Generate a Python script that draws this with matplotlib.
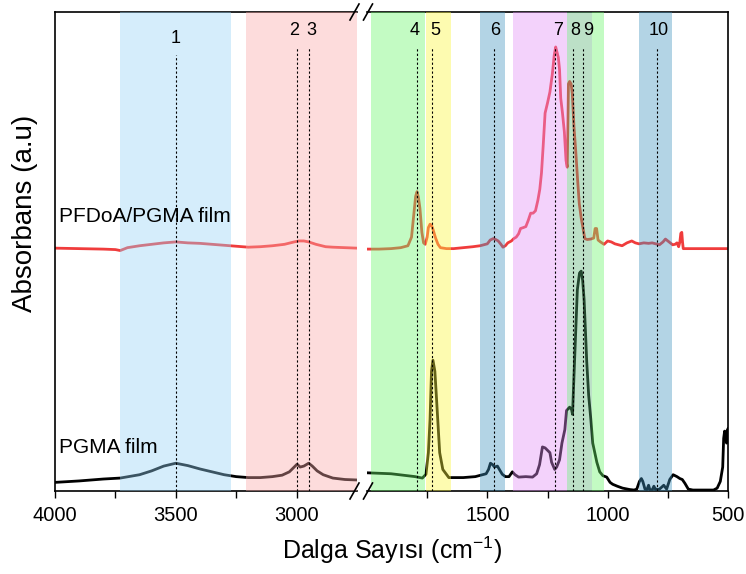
import numpy as np
import matplotlib.pyplot as plt

plt.rcParams['font.family'] = ['Liberation Sans', 'DejaVu Sans']
plt.rcParams['mathtext.fontset'] = 'custom'
plt.rcParams['mathtext.rm'] = 'Liberation Sans'

# PGMA film, high wavenumber part (cm-1, absorbance a.u.)
pgma_hi_x = [4000, 3900, 3800, 3730, 3650, 3600, 3550, 3500, 3450, 3400, 3350, 3300,
             3250, 3200, 3150, 3100, 3060, 3030, 3010, 2998, 2985, 2970, 2950, 2935,
             2915, 2890, 2850, 2800, 2750]
pgma_hi_y = [0.018, 0.021, 0.025, 0.027, 0.034, 0.042, 0.052, 0.058, 0.053, 0.046, 0.040,
             0.034, 0.030, 0.028, 0.028, 0.030, 0.033, 0.040, 0.050, 0.056, 0.050, 0.052,
             0.058, 0.052, 0.042, 0.034, 0.027, 0.024, 0.023]

# PGMA film, fingerprint part (wavenumber, absorbance)
pgma_lo = [(2000, 0.038), (1900, 0.036), (1850, 0.033), (1800, 0.030), (1770, 0.027),
           (1755, 0.035), (1745, 0.080), (1738, 0.150), (1732, 0.250), (1726, 0.273),
           (1718, 0.250), (1712, 0.200), (1705, 0.140), (1698, 0.080), (1685, 0.045),
           (1660, 0.028), (1600, 0.028), (1550, 0.030), (1505, 0.036), (1495, 0.045),
           (1487, 0.058), (1478, 0.055), (1470, 0.050), (1458, 0.052), (1450, 0.045),
           (1438, 0.035), (1425, 0.030), (1410, 0.030), (1396, 0.040), (1385, 0.034),
           (1370, 0.029), (1340, 0.030), (1312, 0.029), (1295, 0.036), (1283, 0.055),
           (1271, 0.092), (1260, 0.090), (1254, 0.087), (1240, 0.080), (1233, 0.060),
           (1220, 0.045), (1212, 0.050), (1200, 0.065), (1190, 0.100), (1178, 0.128),
           (1171, 0.168), (1158, 0.175), (1150, 0.170), (1146, 0.160), (1140, 0.240),
           (1133, 0.330), (1126, 0.420), (1117, 0.455), (1110, 0.459), (1104, 0.440),
           (1098, 0.400), (1092, 0.330), (1087, 0.270), (1079, 0.200), (1070, 0.150),
           (1062, 0.100), (1045, 0.060), (1033, 0.040), (1020, 0.032), (1004, 0.029),
           (990, 0.018), (979, 0.014), (960, 0.010), (938, 0.006), (908, 0.003),
           (890, 0.002), (879, 0.004), (868, 0.020), (860, 0.026), (854, 0.020),
           (845, 0.004), (837, 0.003), (830, 0.012), (825, 0.003), (815, 0.002),
           (808, 0.010), (800, 0.002), (795, 0.004), (790, 0.002), (780, 0.006),
           (767, 0.012), (755, 0.004), (742, 0.024), (728, 0.034), (712, 0.030),
           (700, 0.026), (690, 0.024), (679, 0.016), (665, 0.004), (646, 0.002),
           (600, 0.002), (560, 0.002), (545, 0.006), (532, 0.020), (522, 0.050),
           (518, 0.110), (514, 0.125), (510, 0.120), (506, 0.100), (503, 0.127),
           (500, 0.130)]

# PFDoA/PGMA film
pf_hi_x = [4000, 3900, 3800, 3750, 3730, 3700, 3650, 3600, 3550, 3500, 3450, 3400, 3350,
           3300, 3250, 3200, 3150, 3100, 3050, 3010, 2990, 2970, 2950, 2920, 2880, 2850,
           2800, 2750]
pf_hi_y = [0.507, 0.506, 0.505, 0.504, 0.502, 0.508, 0.512, 0.515, 0.518, 0.520, 0.518,
           0.517, 0.515, 0.513, 0.511, 0.509, 0.510, 0.512, 0.515, 0.520, 0.522, 0.522,
           0.520, 0.515, 0.510, 0.509, 0.508, 0.507]

pf_lo = [(2000, 0.505), (1950, 0.505), (1900, 0.506), (1860, 0.508), (1830, 0.512),
         (1815, 0.530), (1805, 0.580), (1798, 0.615), (1792, 0.625), (1786, 0.612),
         (1780, 0.590), (1772, 0.540), (1765, 0.518), (1758, 0.515), (1750, 0.530),
         (1745, 0.550), (1738, 0.557), (1732, 0.555), (1725, 0.545), (1715, 0.528),
         (1705, 0.515), (1695, 0.508), (1670, 0.506), (1640, 0.506), (1600, 0.508),
         (1560, 0.510), (1530, 0.512), (1500, 0.516), (1488, 0.524), (1475, 0.527),
         (1465, 0.525), (1455, 0.522), (1445, 0.516), (1435, 0.509), (1425, 0.512),
         (1415, 0.518), (1400, 0.522), (1390, 0.527), (1380, 0.530), (1370, 0.537),
         (1362, 0.548), (1350, 0.550), (1340, 0.552), (1330, 0.565), (1320, 0.580),
         (1310, 0.580), (1300, 0.585), (1290, 0.607), (1282, 0.630), (1275, 0.664),
         (1268, 0.720), (1260, 0.789), (1250, 0.810), (1240, 0.833), (1230, 0.870),
         (1222, 0.910), (1216, 0.927), (1210, 0.915), (1205, 0.905), (1200, 0.880),
         (1195, 0.820), (1188, 0.790), (1180, 0.750), (1173, 0.690), (1168, 0.676),
         (1163, 0.850), (1158, 0.855), (1152, 0.850), (1147, 0.830), (1140, 0.760),
         (1133, 0.712), (1125, 0.650), (1118, 0.600), (1110, 0.570), (1103, 0.550),
         (1095, 0.527), (1085, 0.525), (1070, 0.526), (1058, 0.528), (1052, 0.548),
         (1046, 0.548), (1040, 0.524), (1030, 0.520), (1015, 0.515), (1000, 0.522),
         (985, 0.520), (970, 0.516), (955, 0.514), (940, 0.512), (920, 0.518),
         (900, 0.522), (885, 0.518), (870, 0.516), (850, 0.518), (830, 0.517),
         (815, 0.518), (800, 0.516), (785, 0.514), (770, 0.520), (760, 0.526),
         (750, 0.522), (740, 0.518), (730, 0.514), (720, 0.515), (712, 0.518),
         (705, 0.510), (700, 0.520), (696, 0.538), (692, 0.540), (689, 0.520),
         (686, 0.506), (650, 0.506), (600, 0.506), (550, 0.506), (500, 0.506)]

# shaded bands (cm-1) and their colours
bands = [(3730, 3270, '#96d4f7'), (3210, 2750, '#faa8a8'), (1983, 1758, '#6bf76b'),
         (1754, 1650, '#fcf73a'), (1529, 1425, '#4194c0'), (1392, 1167, '#e38ff7'),
         (1167, 1067, '#59b375'), (1067, 1017, '#6bf76b'), (871, 733, '#4194c0')]

# peak markers: label, wavenumber of dashed line, label position, label height
peak_labels = ['1', '2', '3', '4', '5', '6', '7', '8', '9', '10']
peak_pos = [3500, 2998, 2950, 1792, 1729, 1471, 1217, 1142, 1104, 796]
label_pos = [3500, 3012, 2940, 1803, 1716, 1468, 1205, 1134, 1080, 788]
label_y = [0.945, 0.962, 0.962, 0.962, 0.962, 0.962, 0.962, 0.962, 0.962, 0.962]

fig = plt.figure(figsize=(7.46, 5.74), dpi=100)
top, bot = 1 - 12 / 574, 1 - 491 / 574
ax1 = fig.add_axes([55 / 746, bot, 302 / 746, top - bot])
ax2 = fig.add_axes([367 / 746, bot, 361 / 746, top - bot])

for ax, xlim in [(ax1, (4000, 2750)), (ax2, (2000, 500))]:
    ax.set_xlim(*xlim)
    ax.set_ylim(0, 1)
    ax.set_yticks([])
    ax.tick_params(axis='x', direction='out', length=5, width=1, labelsize=14.5, pad=6)
    for s in ax.spines.values():
        s.set_linewidth(1.2)
    for lo, hi, c in bands:
        ax.axvspan(hi, lo, color=c, alpha=0.4, lw=0, zorder=3)

ax1.spines['right'].set_visible(False)
ax2.spines['left'].set_visible(False)
ax1.set_xticks([4000, 3750, 3500, 3250, 3000])
ax1.set_xticklabels(['4000', '', '3500', '', '3000'])
ax2.set_xticks([1750, 1500, 1250, 1000, 750, 500])
ax2.set_xticklabels(['', '1500', '', '1000', '', '500'])

pgma_lo_x, pgma_lo_y = zip(*pgma_lo)
pf_lo_x, pf_lo_y = zip(*pf_lo)
ax1.plot(pgma_hi_x, pgma_hi_y, color='black', lw=2, zorder=2)
ax2.plot(pgma_lo_x, pgma_lo_y, color='black', lw=2, zorder=2)
ax1.plot(pf_hi_x, pf_hi_y, color='#f03c3c', lw=2, zorder=2)
ax2.plot(pf_lo_x, pf_lo_y, color='#f03c3c', lw=2, zorder=2)

for lab, px, lx, ly in zip(peak_labels, peak_pos, label_pos, label_y):
    ax = ax1 if px > 2500 else ax2
    ax.axvline(px, ymin=0, ymax=ly - 0.035, color='black', lw=0.8, ls=(0, (2, 2)), zorder=4)
    ax.text(lx, ly, lab, ha='center', va='center', fontsize=13, zorder=5)

ax1.text(3985, 0.573, 'PFDoA/PGMA film', fontsize=15, ha='left', va='center')
ax1.text(3985, 0.09, 'PGMA film', fontsize=15, ha='left', va='center')

# axis break marks
for yb in (top, bot):
    for xb in (354.5 / 746, 368 / 746):
        fig.add_artist(plt.Line2D([xb - 4.5 / 746, xb + 4.5 / 746],
                                  [yb - 8 / 574, yb + 8 / 574],
                                  color='black', lw=1.2))

fig.text(25 / 746, 1 - 213 / 574, 'Absorbans (a.u)', rotation=90, fontsize=20,
         ha='center', va='center')
fig.text(392 / 746, 1 - 550 / 574, r'Dalga Sayısı (cm$^{\mathregular{-1}}$)', fontsize=18,
         ha='center', va='center')

fig.savefig('out.png', dpi=100)
